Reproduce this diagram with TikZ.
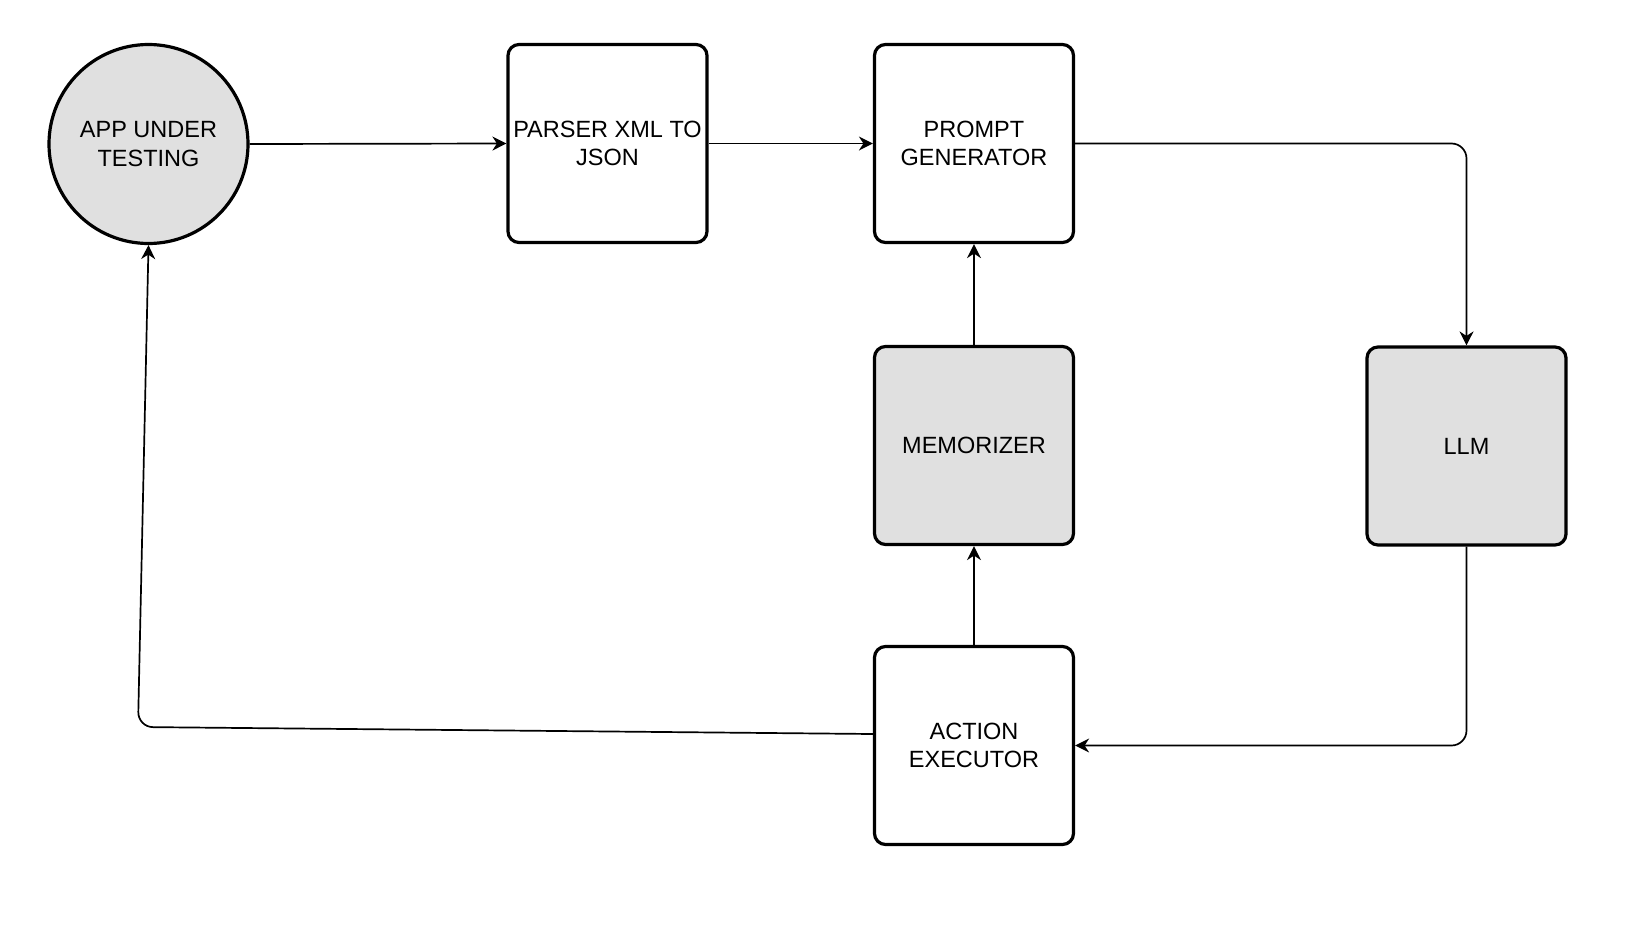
\documentclass[tikz,border=0pt]{standalone}
\usepackage{fontspec}
\setmainfont{Liberation Sans}
\usetikzlibrary{arrows.meta}
\definecolor{blockgray}{HTML}{E0E0E0}
\begin{document}
\begin{tikzpicture}[x=1pt,y=-1pt,
  lbl/.style={align=center, font=\fontsize{23.5}{28.5}\selectfont, inner sep=0pt},
  blk/.style={lbl, draw, line width=3.2pt, rounded corners=11pt,
    minimum width=199pt, minimum height=198pt},
  ovl/.style={lbl, draw, circle, line width=3.2pt, minimum size=199pt, fill=blockgray},
  shaded/.style={fill=blockgray},
  conn/.style={line width=1.7pt, -{Stealth[length=14pt, width=14pt, inset=4.5pt]}}
]
\useasboundingbox (0,0) rectangle (1638,948);

% process blocks
\node[ovl] (app) at (148.5,144) {APP UNDER\\TESTING};
\node[blk] (parser) at (607.5,143.5) {PARSER XML TO\\JSON};
\node[blk] (prompt) at (974,143.5) {PROMPT\\GENERATOR};
\node[blk, shaded] (memo) at (974,445.5) {MEMORIZER};
\node[blk, shaded] (llm) at (1466.5,446) {LLM};
\node[blk] (action) at (974,745.5) {ACTION\\EXECUTOR};

% data flow
\draw[conn] (app.east) -- (parser.west);
\draw[conn] (parser.east) -- (prompt.west);
\draw[conn, rounded corners=15pt] (prompt.east) -| (llm.north);
\draw[conn, rounded corners=15pt] (llm.south) |- (action.east);
\draw[conn] (memo.north) -- (prompt.south);
\draw[conn] (action.north) -- (memo.south);
\coordinate (back) at (138,727);
\draw[conn, rounded corners=15pt] ([yshift=11.5pt]action.west) -- (back) -- (app.south);
\end{tikzpicture}
\end{document}
